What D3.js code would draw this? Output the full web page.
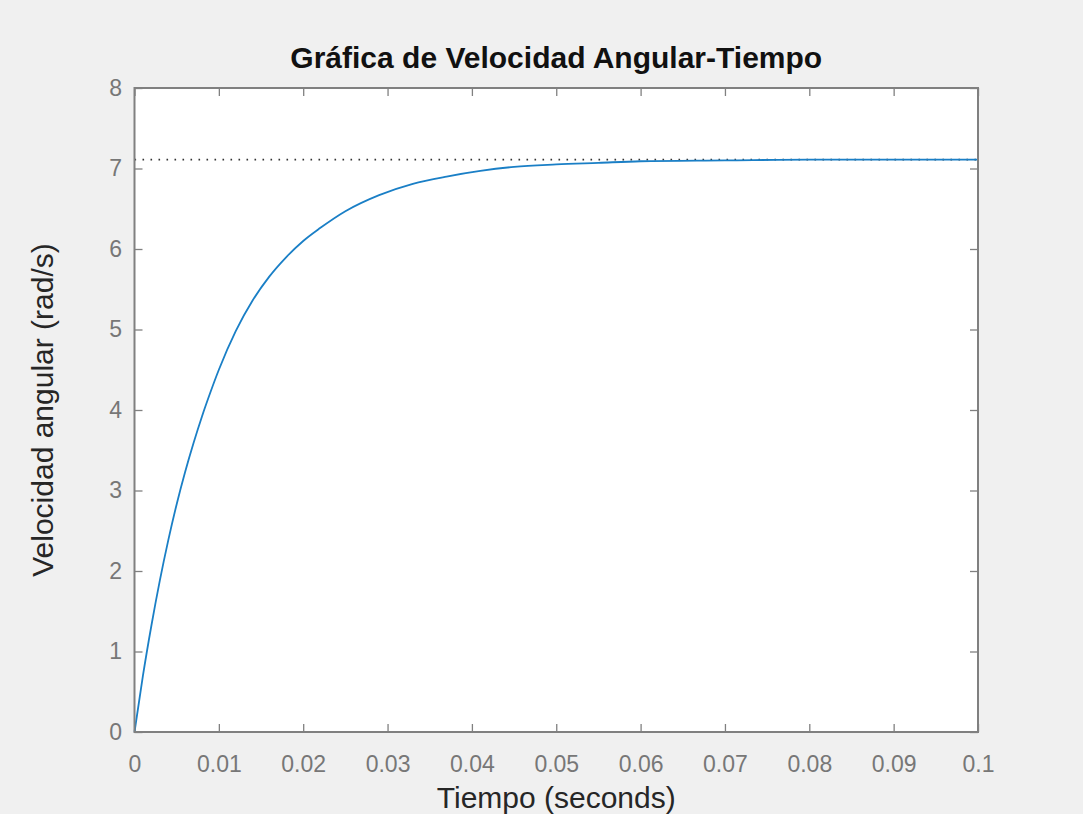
<!DOCTYPE html>
<html>
<head>
<meta charset="utf-8">
<script src="https://cdn.jsdelivr.net/npm/d3@7"></script>
<style>
  body { margin: 0; background: #f0f0f0; }
  svg { display: block; }
  text { font-family: "Liberation Sans", Arial, Helvetica, sans-serif; }
</style>
</head>
<body>
<div id="chart-area"></div>
<script>
// tiempo (s) y velocidad angular (rad/s)
var tiempo = [0, 0.001, 0.002, 0.003, 0.004, 0.005, 0.006, 0.007, 0.008, 0.009, 0.010,
  0.012, 0.014, 0.016, 0.018, 0.020, 0.022, 0.025, 0.029, 0.033, 0.037, 0.041,
  0.045, 0.050, 0.055, 0.060, 0.070, 0.080, 0.090, 0.100];
var velocidad = [0, 0.70, 1.32, 1.88, 2.38, 2.83, 3.23, 3.59, 3.92, 4.22, 4.50,
  4.98, 5.36, 5.66, 5.90, 6.10, 6.26, 6.47, 6.67, 6.81, 6.90, 6.97,
  7.02, 7.05, 7.07, 7.09, 7.10, 7.11, 7.11, 7.11];
var valorFinal = 7.11;

var xTicks = [0, 0.01, 0.02, 0.03, 0.04, 0.05, 0.06, 0.07, 0.08, 0.09, 0.1];
var xTickLabels = ["0", "0.01", "0.02", "0.03", "0.04", "0.05", "0.06", "0.07", "0.08", "0.09", "0.1"];
var yTicks = [0, 1, 2, 3, 4, 5, 6, 7, 8];
var yTickLabels = ["0", "1", "2", "3", "4", "5", "6", "7", "8"];

var titulo = "Gráfica de Velocidad Angular-Tiempo";
var xLabel = "Tiempo (seconds)";
var yLabel = "Velocidad angular (rad/s)";

var W = 1083, H = 814;
var margin = {top: 88, right: 105, bottom: 82, left: 134.5};
var width = W - margin.left - margin.right;
var height = H - margin.top - margin.bottom;

var svg = d3.select("#chart-area").append("svg")
  .attr("width", W)
  .attr("height", H);

svg.append("rect")
  .attr("width", W).attr("height", H)
  .attr("fill", "#f0f0f0");

var g = svg.append("g")
  .attr("transform", "translate(" + margin.left + ", " + margin.top + ")");

var x = d3.scaleLinear().domain([0, 0.1]).range([0, width]);
var y = d3.scaleLinear().domain([0, 8]).range([height, 0]);

g.append("rect")
  .attr("width", width).attr("height", height)
  .attr("fill", "white");

var axisColor = "#808080";
var labelColor = "#777777";

function styleAxis(sel) {
  sel.select(".domain").remove();
  sel.selectAll(".tick line").attr("stroke", axisColor).attr("stroke-width", 1.3);
  sel.selectAll(".tick text")
    .attr("fill", labelColor)
    .style("font-size", "23px");
}

g.append("g")
  .attr("transform", "translate(0, " + height + ")")
  .call(d3.axisBottom(x).tickValues(xTicks)
    .tickFormat(function(d, i) { return xTickLabels[i]; })
    .tickSizeInner(-8).tickSizeOuter(0).tickPadding(24))
  .call(styleAxis);

g.append("g")
  .call(d3.axisLeft(y).tickValues(yTicks)
    .tickFormat(function(d, i) { return yTickLabels[i]; })
    .tickSizeInner(-8).tickSizeOuter(0).tickPadding(12.5))
  .call(styleAxis);

g.append("g")
  .call(d3.axisTop(x).tickValues(xTicks).tickFormat("")
    .tickSizeInner(-8).tickSizeOuter(0))
  .call(styleAxis);

g.append("g")
  .attr("transform", "translate(" + width + ", 0)")
  .call(d3.axisRight(y).tickValues(yTicks).tickFormat("")
    .tickSizeInner(-8).tickSizeOuter(0))
  .call(styleAxis);

// linea punteada del valor final
g.append("line")
  .attr("x1", x(0)).attr("x2", x(0.1))
  .attr("y1", y(valorFinal)).attr("y2", y(valorFinal))
  .attr("stroke", "#333")
  .attr("stroke-width", 1.6)
  .attr("stroke-dasharray", "1.6,6.4");

var datos = tiempo.map(function(t, i) { return {t: t, v: velocidad[i]}; });

var linea = d3.line()
  .x(function(d) { return x(d.t); })
  .y(function(d) { return y(d.v); })
  .curve(d3.curveMonotoneX);

g.append("path")
  .datum(datos)
  .attr("fill", "none")
  .attr("stroke", "#1a7fc6")
  .attr("stroke-width", 1.8)
  .attr("d", linea);

// caja de los ejes
g.append("rect")
  .attr("width", width).attr("height", height)
  .attr("fill", "none")
  .attr("stroke", axisColor)
  .attr("stroke-width", 2);

// titulo
svg.append("text")
  .attr("x", margin.left + width / 2)
  .attr("y", 68)
  .attr("text-anchor", "middle")
  .attr("font-size", "30px")
  .attr("font-weight", "bold")
  .attr("fill", "#111")
  .text(titulo);

// etiqueta x
svg.append("text")
  .attr("x", margin.left + width / 2)
  .attr("y", 808)
  .attr("text-anchor", "middle")
  .attr("font-size", "30px")
  .attr("fill", "#262626")
  .text(xLabel);

// etiqueta y
svg.append("text")
  .attr("transform", "rotate(-90)")
  .attr("x", -(margin.top + height / 2))
  .attr("y", 53)
  .attr("text-anchor", "middle")
  .attr("font-size", "30px")
  .attr("fill", "#262626")
  .text(yLabel);
</script>
</body>
</html>
